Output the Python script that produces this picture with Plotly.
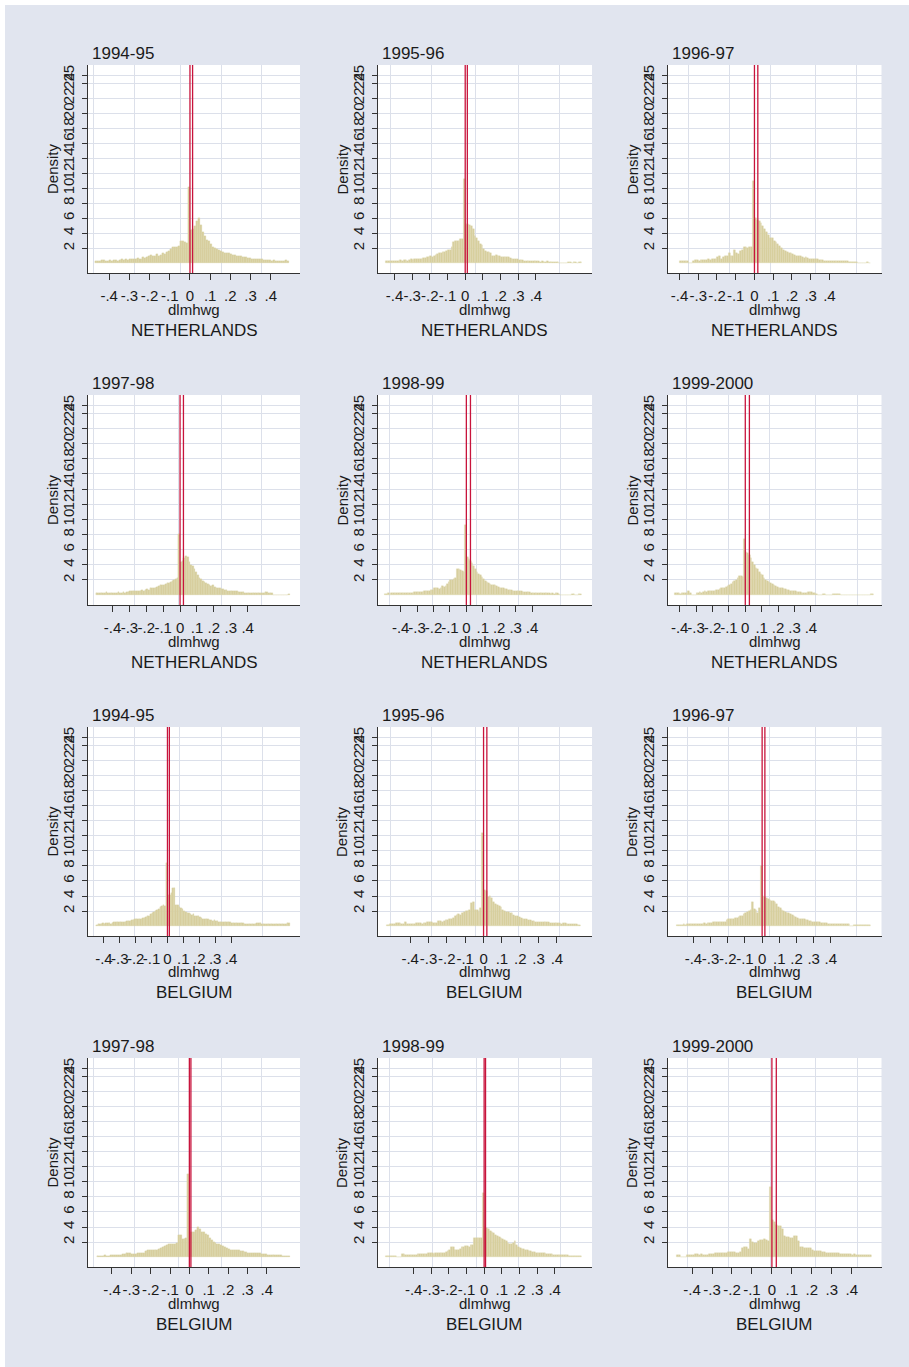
import plotly.graph_objects as go

# ---------------- data ----------------
X_LABEL = "dlmhwg"
Y_LABEL = "Density"
BIN_WIDTH = 0.01

X_TICK_VALS = [-0.4, -0.3, -0.2, -0.1, 0, 0.1, 0.2, 0.3, 0.4]
X_TICK_TEXT = ["-.4", "-.3", "-.2", "-.1", "0", ".1", ".2", ".3", ".4"]
Y_TICK_VALS = [2, 4, 6, 8, 10, 12, 14, 16, 18, 20, 22, 24, 25]
Y_TICK_TEXT = [str(v) for v in Y_TICK_VALS]

# left edge of first bin and density per bin (bins of width 0.01)
NL94_EDGE = -0.47
NL94_DENSITY = [0.3, 0.3, 0.3, 0.4, 0.4, 0.3, 0.3, 0.4, 0.3, 0.4, 0.4, 0.3, 0.4,
                0.5, 0.4, 0.5, 0.4, 0.5, 0.6, 0.5, 0.6, 0.7, 0.6, 0.8, 0.7, 0.8,
                1.0, 1.1, 0.9, 1.0, 1.2, 0.9, 1.1, 1.3, 1.2, 1.5,
                1.6, 1.9, 2.1, 2.1, 2.2, 2.3, 3.0, 3.0, 2.8, 2.7,
                10.2,
                4.4, 4.5, 4.9, 5.6, 6.0, 5.1, 4.2, 3.6, 3.1, 2.9,
                2.6, 2.2, 2.0, 1.9, 1.8, 1.6, 1.5, 1.4, 1.3, 1.3,
                1.2, 1.1, 1.1, 1.0, 0.9, 0.9, 0.8, 0.8, 0.7, 0.7,
                0.6, 0.6, 0.5, 0.5, 0.5, 0.5, 0.4, 0.4, 0.4, 0.4,
                0.3, 0.4, 0.3, 0.3, 0.3, 0.3, 0.3, 0.4, 0.3]

NL95_EDGE = -0.45
NL95_DENSITY = [0.3, 0.3, 0.3, 0.3, 0.3, 0.3, 0.3, 0.3, 0.4, 0.3, 0.4, 0.4, 0.3, 0.4,
                0.5, 0.4, 0.5, 0.5, 0.6, 0.5, 0.6, 0.7, 0.7, 0.8,
                0.8, 0.9, 0.8, 1.0, 1.1, 1.2, 1.4, 1.4, 1.5, 1.5,
                1.6, 1.7, 1.8, 2.2, 2.8, 2.9, 2.9, 3.0, 3.2, 3.2,
                11.2,
                5.1, 5.2, 5.1, 5.0, 4.5, 3.6, 3.4, 3.0, 2.5, 2.4,
                1.9, 1.6, 1.5, 1.5, 1.4, 1.0, 1.0, 1.1, 1.0, 0.9,
                0.8, 0.8, 0.8, 0.8, 0.8, 0.7, 0.6, 0.5, 0.5, 0.5,
                0.4, 0.4, 0.4, 0.3, 0.3, 0.3, 0.3, 0.3, 0.3, 0.3,
                0.3, 0.3, 0.2, 0.3, 0.2, 0.2, 0.3, 0.2, 0.2, 0.2,
                0.2, 0.2, 0.2, 0, 0, 0, 0, 0, 0.2, 0.2,
                0, 0.2, 0.2, 0, 0.2, 0.2]

NL96_EDGE = -0.40
NL96_DENSITY = [0.3, 0.3, 0.3, 0.3, 0.3, 0, 0, 0.3, 0.4,
                0.4, 0.3, 0.4, 0.4, 0.4, 0.4, 0.5, 0.4, 0.5, 0.5,
                0.6, 0.8, 0.9, 0.6, 0.8, 1.0, 0.9, 1.3, 1.0, 1.0,
                1.7, 1.3, 1.2, 1.6, 1.7, 2.1, 2.1, 2.0, 2.1, 2.2,
                11.0,
                6.0, 5.8, 5.6, 5.4, 5.0, 4.6, 4.2, 3.7, 3.4, 3.3,
                3.0, 2.8, 2.6, 2.3, 2.0, 1.8, 1.6, 1.5, 1.4, 1.3,
                1.2, 1.1, 1.0, 0.9, 0.9, 0.8, 0.7, 0.8, 0.7, 0.6,
                0.6, 0.5, 0.5, 0.5, 0.4, 0.4, 0.4, 0.3, 0.3, 0.3,
                0.3, 0.3, 0.3, 0.3, 0.3, 0.3, 0.3, 0.3, 0.3, 0.3,
                0.2, 0.2, 0.2, 0.2, 0.2, 0, 0, 0, 0, 0,
                0.2, 0]

NL97_EDGE = -0.50
NL97_DENSITY = [0.3, 0.3, 0.3, 0.3, 0.3, 0.3, 0.4, 0.3, 0.3,
                0.3, 0.3, 0.3, 0.3, 0.4, 0.3, 0.3, 0.4, 0.3, 0.4,
                0.4, 0.5, 0.6, 0.5, 0.5, 0.5, 0.6, 0.5, 0.7, 0.6,
                0.7, 0.8, 0.7, 0.9, 0.9, 1.0, 1.0, 1.1, 1.2, 1.3,
                1.3, 1.4, 1.5, 1.6, 1.6, 1.7, 1.9, 2.0, 2.1, 2.2,
                8.1,
                4.4, 4.5, 4.9, 5.1, 5.0, 4.4, 4.0, 3.8, 3.4, 3.0,
                2.6, 2.3, 2.1, 1.9, 1.7, 1.6, 1.5, 1.4, 1.2, 1.3,
                1.1, 1.0, 0.9, 0.9, 0.8, 0.8, 0.7, 0.7, 0.6, 0.6,
                0.6, 0.5, 0.5, 0.5, 0.4, 0.4, 0.4, 0.4, 0.3, 0.3,
                0.3, 0.3, 0.3, 0.3, 0.3, 0.3, 0.3, 0.3, 0.3, 0.3,
                0.4, 0.4, 0.3, 0.3, 0.3, 0, 0, 0, 0, 0,
                0, 0, 0, 0, 0.2]

NL98_EDGE = -0.50
NL98_DENSITY = [0.2, 0.2, 0.3, 0, 0.3, 0.3, 0.3, 0.3, 0.3,
                0.3, 0.3, 0.3, 0.3, 0.3, 0.3, 0.3, 0.3, 0.3, 0.4,
                0.4, 0.4, 0.4, 0.4, 0.4, 0.5, 0.5, 0.5, 0.6, 0.7,
                0.7, 0.9, 1.0, 0.9, 0.8, 1.0, 1.2, 1.1, 1.2, 1.5,
                1.8, 2.0, 2.0, 2.1, 2.2, 3.4, 3.4, 3.3, 3.2, 3.0,
                9.2,
                5.0, 4.8, 4.5, 4.2, 3.8, 3.4, 3.0, 2.8, 2.6, 2.4,
                2.1, 1.9, 1.8, 1.6, 1.5, 1.4, 1.3, 1.3, 1.2, 1.1,
                1.0, 0.9, 0.9, 0.8, 0.8, 0.7, 0.7, 0.7, 0.6, 0.6,
                0.6, 0.5, 0.5, 0.5, 0.4, 0.4, 0.4, 0.4, 0.4, 0.3,
                0.3, 0.3, 0.3, 0.3, 0.3, 0.3, 0.3, 0.3, 0.3, 0.3,
                0.3, 0.2, 0.3, 0.2, 0.3, 0.3, 0.2, 0, 0, 0,
                0, 0, 0, 0, 0.2, 0.2, 0, 0, 0.2, 0.2]

NL99_EDGE = -0.43
NL99_DENSITY = [0.3, 0.3, 0.3, 0.2, 0.3, 0.3, 0.3, 0.3, 0.5, 0.3, 0, 0,
                0, 0.3, 0.3, 0.4, 0.3, 0.4, 0.5, 0.4, 0.5, 0.5,
                0.5, 0.6, 0.6, 0.7, 0.7, 0.8, 0.9, 0.9, 1.0, 1.1,
                1.2, 1.3, 1.5, 1.7, 1.9, 2.0, 2.3, 2.5, 2.5, 2.4,
                7.4,
                5.7, 5.5, 5.3, 4.9, 4.4, 4.0, 3.6, 3.4, 3.1, 2.8,
                2.6, 2.3, 2.0, 1.9, 1.7, 1.6, 1.5, 1.4, 1.2, 1.1,
                1.0, 1.0, 0.9, 0.8, 0.8, 0.7, 0.7, 0.6, 0.6, 0.5,
                0.5, 0.4, 0.4, 0.4, 0.3, 0.3, 0.3, 0.3, 0.4, 0.4,
                0.4, 0.3, 0.3, 0.2, 0, 0, 0, 0.2, 0.2, 0,
                0, 0, 0, 0.2, 0.2, 0.2, 0.2, 0.2, 0, 0,
                0, 0, 0, 0, 0, 0, 0, 0, 0, 0,
                0, 0, 0, 0, 0, 0, 0.2, 0.2]

BE94_EDGE = -0.45
BE94_DENSITY = [0.2, 0.3, 0.3, 0.3, 0.4, 0.3, 0.4, 0.4, 0.4, 0.3, 0.4, 0.5, 0.5, 0.5,
                0.5, 0.6, 0.6, 0.6, 0.6, 0.7, 0.7, 0.7, 0.8, 0.8,
                0.9, 0.9, 0.9, 1.0, 1.0, 1.1, 1.1, 1.2, 1.3, 1.4,
                1.6, 1.8, 1.9, 2.0, 2.1, 2.3, 2.6, 2.7, 2.8, 2.7,
                8.4,
                4.1, 4.2, 4.4, 5.1, 5.0, 2.8, 2.8, 2.6, 2.4, 2.3,
                2.0, 1.9, 1.8, 1.7, 1.6, 1.5, 1.6, 1.4, 1.3, 1.3,
                1.2, 1.1, 1.0, 1.0, 0.9, 0.9, 0.8, 0.8, 0.7, 0.8,
                0.7, 0.7, 0.6, 0.6, 0.6, 0.6, 0.5, 0.5, 0.5, 0.5,
                0.4, 0.4, 0.4, 0.4, 0.4, 0.4, 0.4, 0.4, 0.3, 0.3,
                0.3, 0.3, 0.3, 0.3, 0.3, 0.3, 0.4, 0.4, 0.4, 0.3,
                0.3, 0.3, 0.3, 0.3, 0.3, 0.3, 0.3, 0.3, 0.3, 0.3,
                0.3, 0.3, 0.3, 0.3, 0.3, 0.4, 0.4]

BE95_EDGE = -0.53
BE95_DENSITY = [0.2, 0.2, 0.3, 0.3, 0.3, 0.4, 0.4, 0.4, 0.3, 0.3, 0.5, 0.3,
                0.3, 0.3, 0.3, 0.3, 0.4, 0.4, 0.4, 0.3, 0.4, 0.4,
                0.5, 0.6, 0.5, 0.4, 0.4, 0.4, 0.7, 0.7, 0.6, 0.7,
                0.8, 0.8, 0.9, 1.0, 1.1, 1.4, 1.5, 1.6, 1.5, 1.8,
                1.9, 2.0, 2.0, 2.1, 3.1, 3.2, 2.2, 2.1, 1.9, 2.4,
                12.4,
                4.8, 4.7, 3.9, 4.0, 3.8, 3.2, 3.0, 2.8, 2.7, 2.6,
                2.2, 2.0, 1.9, 1.9, 1.8, 1.7, 1.5, 1.3, 1.3, 1.2,
                1.1, 1.0, 0.9, 0.9, 0.8, 0.8, 0.7, 0.7, 0.6, 0.6,
                0.6, 0.5, 0.5, 0.5, 0.6, 0.5, 0.4, 0.4, 0.4, 0.4,
                0.4, 0.4, 0.3, 0.4, 0.4, 0.3, 0.3, 0.3, 0.3, 0.3,
                0.3, 0.2, 0.2]

BE96_EDGE = -0.50
BE96_DENSITY = [0.2, 0.2, 0.2, 0.2, 0.3, 0.2, 0.3, 0.3, 0.3,
                0.3, 0.3, 0.3, 0.3, 0.3, 0.3, 0.3, 0.4, 0.3, 0.4,
                0.4, 0.4, 0.6, 0.6, 0.5, 0.5, 0.5, 0.5, 0.6, 0.6,
                0.8, 0.9, 0.9, 1.0, 1.0, 1.1, 1.1, 1.2, 1.3, 1.4,
                1.6, 1.8, 1.9, 2.0, 2.2, 3.2, 2.3, 2.2, 1.8, 2.4,
                8.0,
                4.0, 3.9, 3.7, 3.6, 3.5, 3.4, 3.3, 3.2, 2.9, 2.6,
                2.4, 2.2, 2.0, 1.9, 1.8, 1.7, 1.6, 1.5, 1.3, 1.2,
                1.1, 1.0, 1.0, 1.0, 0.9, 0.8, 0.8, 0.7, 0.7, 0.6,
                0.6, 0.5, 0.5, 0.5, 0.4, 0.4, 0.4, 0.4, 0.3, 0.3,
                0.3, 0.3, 0.3, 0.3, 0.3, 0.3, 0.3, 0.3, 0.3, 0.3,
                0.3, 0, 0, 0.2, 0.2, 0.2, 0.2, 0.2, 0.2, 0.2,
                0.2, 0.2, 0.2]

BE97_EDGE = -0.48
BE97_DENSITY = [0.2, 0.2, 0.2, 0.2, 0.3, 0.2, 0.2,
                0.3, 0.3, 0.3, 0.3, 0.3, 0.3, 0.4, 0.4, 0.6, 0.6,
                0.6, 0.4, 0.4, 0.4, 0.5, 0.6, 0.5, 0.6, 0.8, 0.9,
                1.0, 1.0, 1.0, 1.0, 0.9, 1.1, 1.2, 1.4, 1.5, 1.6,
                1.7, 1.8, 1.8, 1.7, 1.9, 2.9, 2.9, 2.4, 2.4, 2.5,
                11.0,
                3.3, 3.4, 3.4, 3.6, 4.0, 3.8, 3.4, 3.3, 3.1, 3.0,
                2.5, 2.3, 2.0, 1.9, 1.8, 1.7, 1.6, 1.5, 1.3, 1.2,
                1.1, 1.0, 1.0, 0.9, 0.9, 0.9, 0.8, 0.8, 0.7, 0.7,
                0.6, 0.6, 0.6, 0.6, 0.5, 0.5, 0.5, 0.4, 0.4, 0.4,
                0.3, 0.3, 0.3, 0.3, 0.3, 0.3, 0.3, 0.3, 0.2, 0.2,
                0.2, 0.2]

BE98_EDGE = -0.56
BE98_DENSITY = [0.2, 0.2, 0.2, 0.2, 0.2, 0.2, 0, 0, 0, 0.4, 0.4, 0.3, 0.3, 0.3, 0.3,
                0.3, 0.3, 0.3, 0.4, 0.4, 0.4, 0.4, 0.4, 0.4, 0.5,
                0.5, 0.5, 0.4, 0.5, 0.5, 0.5, 0.6, 0.6, 0.6, 0.7,
                0.8, 0.9, 1.3, 1.3, 0.9, 1.0, 1.0, 1.1, 1.3, 1.4,
                1.5, 1.5, 1.4, 1.6, 1.6, 2.5, 2.5, 2.5, 2.5, 2.6,
                8.5,
                4.0, 3.9, 3.7, 3.5, 3.3, 3.2, 3.0, 2.8, 2.7, 2.6,
                2.4, 2.3, 2.1, 1.9, 1.8, 1.7, 1.9, 2.2, 1.6, 1.4,
                1.2, 1.1, 1.1, 1.0, 0.9, 0.8, 0.8, 0.7, 0.7, 0.6,
                0.6, 0.5, 0.5, 0.5, 0.5, 0.4, 0.4, 0.4, 0.4, 0.3,
                0.3, 0.3, 0.3, 0.3, 0.3, 0.3, 0.3, 0.3, 0.2, 0.2,
                0.2, 0.2, 0.2, 0.2, 0.2]

BE99_EDGE = -0.48
BE99_DENSITY = [0.3, 0.3, 0, 0, 0, 0.3, 0.3,
                0.3, 0.3, 0.4, 0.4, 0.3, 0.4, 0.3, 0.3, 0.3, 0.4,
                0.4, 0.4, 0.5, 0.5, 0.6, 0.6, 0.6, 0.6, 0.6, 0.7,
                0.7, 0.7, 0.7, 0.6, 0.6, 0.7, 1.2, 1.4, 1.3, 1.1,
                2.4, 2.0, 1.9, 1.9, 2.2, 2.3, 2.3, 2.4, 2.3, 2.2,
                9.3,
                4.9, 4.7, 4.3, 4.2, 4.1, 3.8, 2.8, 2.7, 2.7, 2.6,
                2.6, 2.8, 2.8, 2.1, 1.4, 1.3, 1.2, 1.2, 1.2, 1.2,
                1.0, 0.8, 0.8, 0.8, 0.8, 0.7, 0.7, 0.6, 0.6, 0.6,
                0.5, 0.5, 0.5, 0.5, 0.4, 0.4, 0.4, 0.4, 0.4, 0.4,
                0.3, 0.4, 0.3, 0.3, 0.3, 0.3, 0.3, 0.3, 0.3, 0.3]

# reference lines (xline) per panel
NL94_LINES = [0.0, 0.013]
NL95_LINES = [0.0, 0.012]
NL96_LINES = [0.0, 0.018]
NL97_LINES = [0.0, 0.020]
NL98_LINES = [0.0, 0.025]
NL99_LINES = [0.0, 0.025]
BE94_LINES = [0.0, 0.012]
BE95_LINES = [0.0, 0.018]
BE96_LINES = [0.0, 0.016]
BE97_LINES = [0.0, 0.008]
BE98_LINES = [0.0, 0.008]
BE99_LINES = [0.0, 0.022]

PANELS = [
    ("1994-95", "NETHERLANDS", NL94_EDGE, NL94_DENSITY, NL94_LINES),
    ("1995-96", "NETHERLANDS", NL95_EDGE, NL95_DENSITY, NL95_LINES),
    ("1996-97", "NETHERLANDS", NL96_EDGE, NL96_DENSITY, NL96_LINES),
    ("1997-98", "NETHERLANDS", NL97_EDGE, NL97_DENSITY, NL97_LINES),
    ("1998-99", "NETHERLANDS", NL98_EDGE, NL98_DENSITY, NL98_LINES),
    ("1999-2000", "NETHERLANDS", NL99_EDGE, NL99_DENSITY, NL99_LINES),
    ("1994-95", "BELGIUM", BE94_EDGE, BE94_DENSITY, BE94_LINES),
    ("1995-96", "BELGIUM", BE95_EDGE, BE95_DENSITY, BE95_LINES),
    ("1996-97", "BELGIUM", BE96_EDGE, BE96_DENSITY, BE96_LINES),
    ("1997-98", "BELGIUM", BE97_EDGE, BE97_DENSITY, BE97_LINES),
    ("1998-99", "BELGIUM", BE98_EDGE, BE98_DENSITY, BE98_LINES),
    ("1999-2000", "BELGIUM", BE99_EDGE, BE99_DENSITY, BE99_LINES),
]

# ---------------- axis layout (style) ----------------
X_RANGES = [[-0.505, 0.545], [-0.496, 0.717], [-0.464, 0.678],
            [-0.545, 0.710], [-0.541, 0.765], [-0.474, 0.830],
            [-0.500, 0.834], [-0.578, 0.591], [-0.551, 0.695],
            [-0.524, 0.572], [-0.605, 0.612], [-0.523, 0.549]]
X_GRIDS = [[-0.48, -0.277, -0.047, 0.158, 0.356],
           [-0.421, -0.189, 0.057, 0.302, 0.534],
           [-0.354, -0.133, 0.085, 0.327, 0.545],
           [-0.514, -0.269, -0.012, 0.245, 0.484],
           [-0.469, -0.204, 0.061, 0.316, 0.571],
           [-0.359, -0.105, 0.148, 0.427, 0.686],
           [-0.468, -0.206, 0.078, 0.34, 0.599],
           [-0.505, -0.282, -0.045, 0.191, 0.415],
           [-0.437, -0.194, 0.045, 0.311, 0.55],
           [-0.497, -0.283, -0.058, 0.166, 0.375],
           [-0.538, -0.291, -0.044, 0.194, 0.432],
           [-0.425, -0.219, -0.008, 0.219, 0.43]]
Y_RANGE = [-1.3, 26.4]

W, H = 909, 1367
COL_PX = [(88, 300), (377.5, 592), (667.5, 881.5)]
ROW_PX = [(65, 273), (395, 605), (727, 936), (1058, 1267)]

BG = "#E1E5EF"
GRID = "#DCE0EA"
AXIS = "#333333"
BAR_FILL = "#D7CF9E"
BAR_LINE = "#DED7AE"
RED = "#C8143C"
FONT = "Liberation Sans, Arial, sans-serif"
TXT = "#1a1a1a"


def sfx(n):
    return "" if n == 1 else str(n)


fig = go.Figure()
layout = dict(
    width=W, height=H,
    margin=dict(l=0, r=0, t=0, b=0),
    paper_bgcolor=BG, plot_bgcolor="white",
    showlegend=False,
    font=dict(family=FONT, color=TXT, size=15),
    bargap=0,
)
shapes = []
annotations = []

for k, (period, country, edge, dens, lines) in enumerate(PANELS):
    i = k + 1
    xs, ys, gs = sfx(i), sfx(i), sfx(i + 12)
    r, c = divmod(k, 3)
    x0p, x1p = COL_PX[c]
    y0p, y1p = ROW_PX[r]
    xdom = [x0p / W, x1p / W]
    ydom = [1 - y1p / H, 1 - y0p / H]
    centers = [edge + (j + 0.5) * BIN_WIDTH for j in range(len(dens))]

    fig.add_trace(go.Bar(
        x=centers, y=dens, width=BIN_WIDTH,
        marker=dict(color=BAR_FILL, line=dict(color=BAR_LINE, width=0.3)),
        xaxis=f"x{xs}", yaxis=f"y{ys}", hoverinfo="skip",
    ))
    # empty trace to activate overlay axis carrying vertical gridlines
    fig.add_trace(go.Scatter(x=[], y=[], xaxis=f"x{gs}", yaxis=f"y{ys}",
                             hoverinfo="skip"))

    layout[f"xaxis{xs}"] = dict(
        domain=xdom, anchor=f"y{ys}", range=X_RANGES[k],
        tickmode="array", tickvals=X_TICK_VALS, ticktext=X_TICK_TEXT,
        tickangle=0, ticks="outside", ticklen=6, tickcolor=AXIS, tickwidth=1,
        ticklabelstandoff=3,
        showline=True, linecolor=AXIS, linewidth=1,
        showgrid=False, zeroline=False, tickfont=dict(size=15),
    )
    layout[f"xaxis{gs}"] = dict(
        overlaying=f"x{xs}", anchor=f"y{ys}", range=X_RANGES[k],
        tickmode="array", tickvals=X_GRIDS[k], showticklabels=False,
        ticks="", showline=False, zeroline=False,
        showgrid=True, gridcolor=GRID, gridwidth=1,
    )
    layout[f"yaxis{ys}"] = dict(
        domain=ydom, anchor=f"x{xs}", range=Y_RANGE,
        tickmode="array", tickvals=Y_TICK_VALS, ticktext=Y_TICK_TEXT,
        tickangle=-90, ticks="outside", ticklen=5, tickcolor=AXIS, tickwidth=1,
        ticklabelstandoff=2,
        showline=True, linecolor=AXIS, linewidth=1,
        showgrid=True, gridcolor=GRID, gridwidth=1.2,
        zeroline=False, tickfont=dict(size=15),
    )

    for xv in lines:
        shapes.append(dict(type="line", xref=f"x{xs}", yref=f"y{ys} domain",
                           x0=xv, x1=xv, y0=0, y1=1, layer="above",
                           line=dict(color=RED, width=1.3)))

    xd, yd = f"x{xs} domain", f"y{ys} domain"
    annotations += [
        dict(text=period, xref=xd, yref=yd, x=0, y=1, xshift=2, yshift=0,
             xanchor="left", yanchor="bottom", showarrow=False,
             font=dict(size=17)),
        dict(text=Y_LABEL, xref=xd, yref=yd, x=0, y=0.5, xshift=-36,
             xanchor="center", yanchor="middle", textangle=-90,
             showarrow=False, font=dict(size=15)),
        dict(text=X_LABEL, xref=xd, yref=yd, x=0.5, y=0, yshift=-36,
             xanchor="center", yanchor="middle", showarrow=False,
             font=dict(size=15)),
        dict(text=country, xref=xd, yref=yd, x=0.5, y=0, yshift=-57,
             xanchor="center", yanchor="middle", showarrow=False,
             font=dict(size=17)),
    ]

# thin white strip at top and left edges of the image
shapes.append(dict(type="rect", xref="paper", yref="paper", x0=0, x1=5 / W,
                   y0=0, y1=1, fillcolor="white", line=dict(width=0)))
shapes.append(dict(type="rect", xref="paper", yref="paper", x0=0, x1=1,
                   y0=1 - 5 / H, y1=1, fillcolor="white", line=dict(width=0)))

layout["shapes"] = shapes
layout["annotations"] = annotations
fig.update_layout(**layout)
fig.write_html(
    "out.html",
    config={"displayModeBar": False},
    post_script="document.body.style.margin='0px';"
                "document.body.style.overflow='hidden';",
)
